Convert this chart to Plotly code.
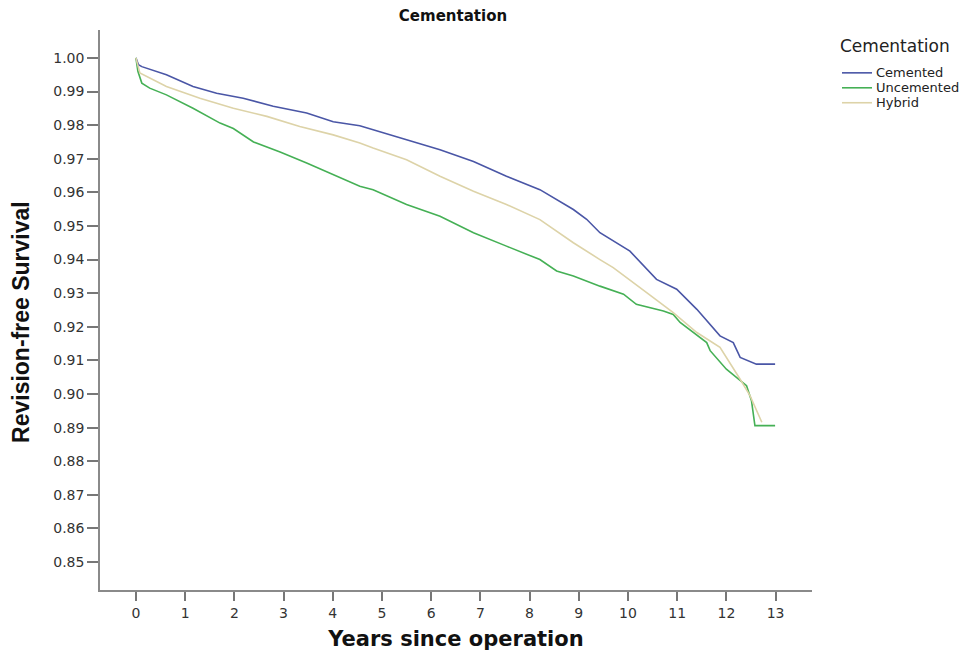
import plotly.graph_objects as go

# Cemented
cem_t = [0, 0.05, 0.12, 0.62, 1.16, 1.64, 2.18, 2.79, 3.47, 4.01, 4.55, 4.82, 5.5, 6.18, 6.86, 7.53,
         8.21, 8.89, 9.16, 9.43, 10.04, 10.58, 10.99, 11.4, 11.87, 12.14, 12.28, 12.61, 12.99]
cem_v = [1.0, 0.998, 0.9974, 0.995, 0.9915, 0.9895, 0.988, 0.9856, 0.9836, 0.981, 0.9798, 0.9786, 0.9757,
         0.9727, 0.9692, 0.9648, 0.9608, 0.9549, 0.952, 0.948, 0.9425, 0.9341, 0.9312, 0.9252, 0.9173,
         0.9153, 0.9109, 0.9089, 0.9089]

# Uncemented
unc_t = [0, 0.04, 0.12, 0.28, 0.62, 1.16, 1.71, 1.98, 2.39, 2.93, 3.47, 4.01, 4.55, 4.82, 5.5, 6.18,
         6.86, 7.53, 8.21, 8.55, 8.89, 9.43, 9.91, 10.17, 10.72, 10.92, 11.06, 11.6, 11.67, 12.0, 12.41,
         12.51, 12.58, 12.99]
unc_v = [1.0, 0.996, 0.9925, 0.991, 0.989, 0.985, 0.9806, 0.979, 0.975, 0.972, 0.9687, 0.9653, 0.9618,
         0.9608, 0.9564, 0.9529, 0.948, 0.944, 0.940, 0.9366, 0.9351, 0.9321, 0.9297, 0.9267, 0.9247,
         0.9237, 0.9213, 0.9153, 0.9129, 0.9074, 0.9025, 0.898, 0.8906, 0.8906]

# Hybrid
hyb_t = [0, 0.08, 0.62, 1.3, 1.98, 2.66, 3.33, 4.01, 4.55, 4.82, 5.5, 6.18, 6.86, 7.53, 8.21, 8.89,
         9.43, 9.7, 10.38, 10.92, 11.4, 11.87, 12.28, 12.48, 12.72]
hyb_v = [1.0, 0.9955, 0.9915, 0.988, 0.985, 0.9826, 0.9796, 0.9771, 0.9747, 0.9732, 0.9697, 0.9648,
         0.9603, 0.9564, 0.9519, 0.945, 0.940, 0.9376, 0.9302, 0.9242, 0.9183, 0.9139, 0.9044, 0.8995,
         0.8916]

series_names = ["Cemented", "Uncemented", "Hybrid"]
series_colors = ["#4a56a6", "#45b055", "#ddd3a8"]

x_ticks = list(range(0, 14))
y_ticks = [round(0.85 + 0.01 * i, 2) for i in range(16)]

SANS = "DejaVu Sans, Arial, sans-serif"
LIB = "Liberation Sans, Arial, sans-serif"

# plot-area geometry (pixels) used for the hand-drawn legend and titles
L, R, T, B = 100, 812, 30, 592
W, H = 963, 659


def px_x(p):
    return (p - L) / (R - L)


def px_y(p):
    return (B - p) / (B - T)


fig = go.Figure()
for t, v, name, col in zip([cem_t, unc_t, hyb_t], [cem_v, unc_v, hyb_v], series_names, series_colors):
    fig.add_trace(go.Scatter(x=t, y=v, mode="lines", name=name,
                             line=dict(color=col, width=1.6), showlegend=False))

fig.update_layout(
    width=W, height=H,
    paper_bgcolor="white", plot_bgcolor="white",
    margin=dict(l=L, r=W - R, t=T, b=H - B),
    font=dict(family=SANS, color="#333"),
    title=dict(text="<b>Cementation</b>", x=453 / W, xanchor="center",
               y=1 - 16 / H, yanchor="middle",
               font=dict(size=15, color="#111", family=SANS)),
    showlegend=False,
)

# legend (title + items) and y-axis title
annotations = [
    dict(text="Cementation", x=px_x(838), y=px_y(46), xref="paper", yref="paper",
         xanchor="left", yanchor="middle", showarrow=False,
         font=dict(size=17, color="#222", family=SANS)),
    dict(text="<b>Revision-free Survival</b>", x=px_x(21), y=px_y(323), xref="paper", yref="paper",
         xanchor="center", yanchor="middle", textangle=-90, showarrow=False,
         font=dict(size=23, color="#111", family=LIB)),
]
shapes = []
for i, (name, col) in enumerate(zip(series_names, series_colors)):
    yy = 73 + 15 * i
    shapes.append(dict(type="line", xref="paper", yref="paper", x0=px_x(842), x1=px_x(872),
                       y0=px_y(yy), y1=px_y(yy), line=dict(color=col, width=1.6)))
    annotations.append(dict(text=name, x=px_x(874), y=px_y(yy), xref="paper", yref="paper",
                            xanchor="left", yanchor="middle", showarrow=False,
                            font=dict(size=13, color="#222", family=SANS)))
fig.update_layout(annotations=annotations, shapes=shapes)

fig.update_xaxes(
    range=[-0.73, 13.74], tickmode="array", tickvals=x_ticks, ticktext=[str(v) for v in x_ticks],
    showgrid=False, zeroline=False, showline=True, linecolor="#8a8a8a", linewidth=1.5,
    ticks="outside", ticklen=9, tickwidth=1.5, tickcolor="#777",
    tickfont=dict(size=14, color="#333", family=SANS),
    title=dict(text="<b>Years since operation</b>", font=dict(size=21, color="#111", family=SANS),
               standoff=12),
)
fig.update_yaxes(
    range=[0.8417, 1.0083], tickmode="array", tickvals=y_ticks, ticktext=[f"{v:.2f}" for v in y_ticks],
    showgrid=False, zeroline=False, showline=True, linecolor="#8a8a8a", linewidth=1.5,
    ticks="outside", ticklen=11, tickwidth=1.5, tickcolor="#777",
    tickfont=dict(size=14, color="#333", family=SANS),
)

fig.write_html("out.html")
